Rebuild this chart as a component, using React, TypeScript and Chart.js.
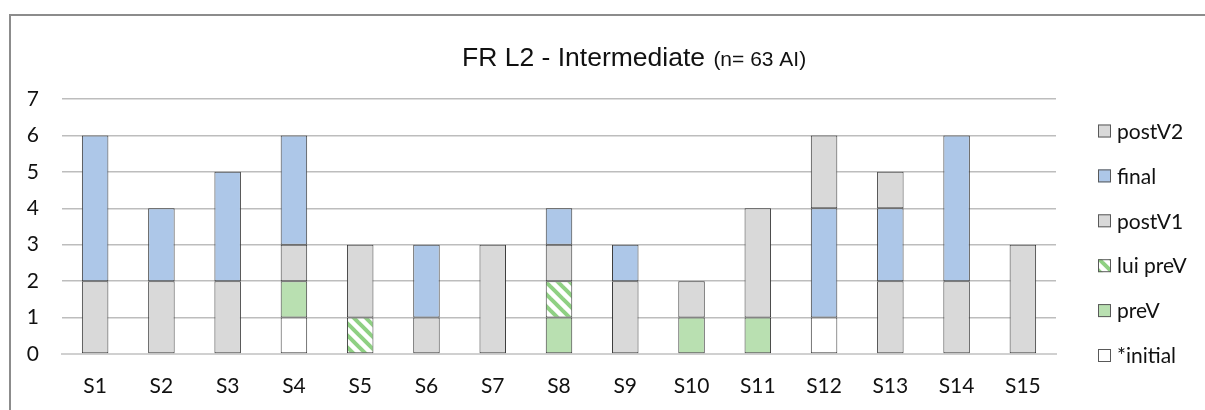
import React, { useEffect, useRef } from "react";
import { Chart, registerables } from "chart.js";

Chart.register(...registerables);

const categories = ["S1", "S2", "S3", "S4", "S5", "S6", "S7", "S8", "S9", "S10", "S11", "S12", "S13", "S14", "S15"];
const initialVals = [0, 0, 0, 1, 0, 0, 0, 0, 0, 0, 0, 1, 0, 0, 0];
const preVVals = [0, 0, 0, 1, 0, 0, 0, 1, 0, 1, 1, 0, 0, 0, 0];
const luiPreVVals = [0, 0, 0, 0, 1, 0, 0, 1, 0, 0, 0, 0, 0, 0, 0];
const postV1Vals = [2, 2, 2, 1, 2, 1, 3, 1, 2, 1, 3, 0, 2, 2, 3];
const finalVals = [4, 2, 3, 3, 0, 2, 0, 1, 1, 0, 0, 3, 2, 4, 0];
const postV2Vals = [0, 0, 0, 0, 0, 0, 0, 0, 0, 0, 0, 2, 1, 0, 0];
const seriesNames = ["*initial", "preV", "lui preV", "postV1", "final", "postV2"];
const titleMain = "FR L2 - Intermediate";
const titleSub = "(n= 63 AI)";
const yMin = 0;
const yMax = 7;

const BORDER = "#3c3c3c";
const TEXT = "#111111";
const FONT = "Lato";

function makeHatch(): CanvasPattern | string {
  const c = document.createElement("canvas");
  const s = 12;
  c.width = s;
  c.height = s;
  const g = c.getContext("2d");
  if (!g) return "#b9e0b1";
  g.fillStyle = "#ffffff";
  g.fillRect(0, 0, s, s);
  g.strokeStyle = "#8fd083";
  g.lineWidth = 4;
  g.lineCap = "square";
  for (const off of [-s, 0, s]) {
    g.beginPath();
    g.moveTo(off, 0);
    g.lineTo(off + s, s);
    g.stroke();
  }
  const p = g.createPattern(c, "repeat");
  return p || "#b9e0b1";
}

const nz = (arr: number[]) => arr.map((v) => (v === 0 ? null : v));

export default function App() {
  const ref = useRef<HTMLCanvasElement | null>(null);

  useEffect(() => {
    if (!ref.current) return;
    const hatch = makeHatch();
    const colors: (string | CanvasPattern)[] = ["#ffffff", "#b9e0b1", hatch, "#d9d9d9", "#adc7e8", "#d9d9d9"];
    const values = [initialVals, preVVals, luiPreVVals, postV1Vals, finalVals, postV2Vals];

    const titlePlugin = {
      id: "customTitle",
      afterDraw(chart: any) {
        const ctx = chart.ctx;
        ctx.save();
        ctx.fillStyle = TEXT;
        ctx.textBaseline = "alphabetic";
        ctx.textAlign = "left";
        ctx.font = '26.5px "Liberation Sans", Arial, sans-serif';
        const x0 = 462;
        const yb = 66;
        ctx.fillText(titleMain, x0, yb);
        const w = ctx.measureText(titleMain + " ").width;
        ctx.font = '21px "Liberation Sans", Arial, sans-serif';
        ctx.fillText(titleSub, x0 + w + 1, yb);
        ctx.restore();
      },
    };

    const legendPlugin = {
      id: "customLegend",
      afterDraw(chart: any) {
        const ctx = chart.ctx;
        const ds = chart.data.datasets;
        ctx.save();
        ctx.font = `21px ${FONT}`;
        ctx.textBaseline = "middle";
        ctx.textAlign = "left";
        const n = ds.length;
        for (let i = 0; i < n; i++) {
          const d = ds[n - 1 - i];
          const cy = 131 + i * 44.9;
          ctx.fillStyle = d.backgroundColor;
          ctx.fillRect(1098, cy - 6.5, 13, 13);
          ctx.strokeStyle = "#595959";
          ctx.lineWidth = 1;
          ctx.strokeRect(1098.5, cy - 6, 12, 12);
          ctx.fillStyle = TEXT;
          ctx.fillText(d.label, 1117, cy + 1);
        }
        ctx.restore();
      },
    };

    const chart = new Chart(ref.current, {
      type: "bar",
      data: {
        labels: categories,
        datasets: seriesNames.map((name, i) => ({
          label: name,
          data: nz(values[i]) as any,
          backgroundColor: colors[i] as any,
          borderColor: BORDER,
          borderWidth: 1,
          borderSkipped: false,
          categoryPercentage: 1,
          barPercentage: 0.4,
        })),
      },
      options: {
        animation: false,
        responsive: false,
        devicePixelRatio: 1,
        layout: { padding: { top: 99, right: 149, left: 0, bottom: 0 } },
        plugins: {
          legend: { display: false },
          title: { display: false },
          tooltip: { enabled: false },
        },
        scales: {
          x: {
            stacked: true,
            grid: { display: false, drawTicks: false },
            border: { display: true, color: "#d0d0d0", width: 2 },
            ticks: { font: { family: FONT, size: 21 }, color: TEXT, padding: 20, maxRotation: 0 },
            afterFit(scale: any) {
              scale.height = 56;
            },
          },
          y: {
            stacked: true,
            min: yMin,
            max: yMax,
            grid: { color: "#bdbdbd", lineWidth: 1.5, drawTicks: false },
            border: { display: false },
            ticks: { stepSize: 1, font: { family: FONT, size: 21 }, color: TEXT, padding: 23 },
            afterFit(scale: any) {
              scale.width = 62;
            },
          },
        },
      },
      plugins: [titlePlugin, legendPlugin],
    });
    return () => chart.destroy();
  }, []);

  return (
    <div style={{ position: "fixed", left: 0, top: 0, width: 1205, height: 410, overflow: "hidden", background: "#fff" }}>
      <div
        style={{
          position: "absolute",
          left: 9,
          top: 14,
          width: 1300,
          height: 500,
          border: "2px solid #8c8c8c",
          boxSizing: "border-box",
        }}
      />
      <canvas ref={ref} width={1205} height={410} style={{ position: "absolute", left: 0, top: 0, width: 1205, height: 410 }} />
    </div>
  );
}
